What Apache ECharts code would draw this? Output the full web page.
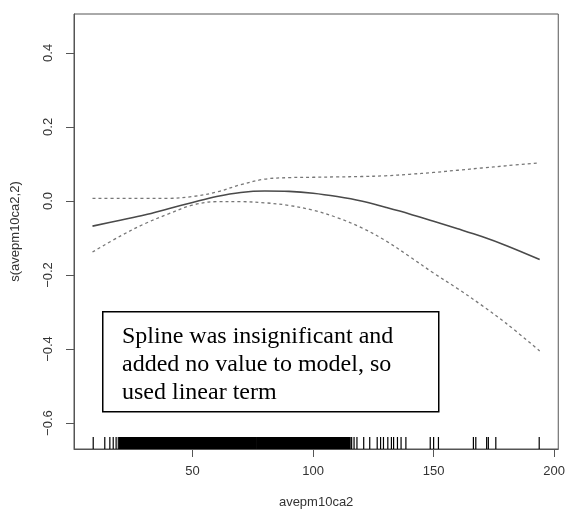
<!DOCTYPE html>
<html>
<head>
<meta charset="utf-8">
<script src="https://cdn.jsdelivr.net/npm/echarts@6/dist/echarts.min.js"></script>
<style>
html,body{margin:0;padding:0;background:#fff;}
#chart{width:568px;height:518px;}
</style>
</head>
<body>
<div id="chart"></div>
<script>
// ---- data ----
const xGrid = [8.5, 20, 30, 40, 50, 60, 70, 80, 90, 100, 110, 120, 130, 140, 150, 160, 170, 180, 194];
const fitVals = [-0.068, -0.052, -0.038, -0.021, -0.004, 0.012, 0.023, 0.027, 0.026, 0.021, 0.012, 0.0, -0.017, -0.035, -0.055, -0.075, -0.096, -0.12, -0.158];
const upperVals = [0.007, 0.007, 0.007, 0.007, 0.012, 0.024, 0.044, 0.059, 0.063, 0.064, 0.065, 0.066, 0.068, 0.072, 0.077, 0.083, 0.089, 0.095, 0.103];
const lowerVals = [-0.138, -0.095, -0.062, -0.035, -0.011, -0.002, -0.002, -0.005, -0.012, -0.025, -0.045, -0.072, -0.107, -0.15, -0.195, -0.237, -0.282, -0.33, -0.405];
// rug: observations in the dense middle range and the isolated ones
const rugDense = [
  20.0, 20.6, 21.4, 22.0, 22.7, 23.3, 24.0, 24.6, 25.3, 26.0, 26.6, 27.3,
  28, 28.5, 29, 29.5, 30, 30.5, 31, 31.5, 32, 32.5, 33, 33.5, 34, 34.5, 35, 35.5, 36, 36.5, 37, 37.5, 38, 38.5, 39, 39.5,
  40, 40.5, 41, 41.5, 42, 42.5, 43, 43.5, 44, 44.5, 45, 45.5, 46, 46.5, 47, 47.5, 48, 48.5, 49, 49.5,
  50, 50.5, 51, 51.5, 52, 52.5, 53, 53.5, 54, 54.5, 55, 56, 56.5, 57, 57.5, 58, 58.5, 59, 59.5,
  60, 60.5, 61, 61.5, 62, 62.5, 63, 63.5, 64, 64.5, 65, 65.5, 66, 66.5, 67, 67.5, 68, 68.5, 69, 69.5,
  70, 70.5, 71, 71.5, 72, 72.5, 73, 73.5, 74, 74.5, 75, 75.5, 76, 77, 77.5, 78.5, 79, 79.5,
  80, 80.5, 81, 81.5, 82, 82.5, 83, 83.5, 84, 84.5, 85, 85.5, 86, 86.5, 87, 87.5, 88, 88.5, 89, 89.5,
  90, 90.5, 91, 91.5, 92, 92.5, 93.5, 94, 94.5, 95, 95.5, 96, 96.7, 97.3, 98, 98.6, 99.2, 99.8,
  100.4, 101, 101.6, 102.3, 103, 103.6, 104.3, 105, 105.6, 106.2, 107, 107.6, 108.2, 108.8, 109.5, 110.1, 110.8, 111.4, 112,
  112.7, 113.5, 114.3, 115
];
const rugSparse = [
  8.8, 13.6, 15.7, 17.1, 18.3, 19.2,
  116, 117, 118.2, 121, 123.5, 126.6, 128, 129.2, 131, 132.5, 133.4, 135, 136.5, 138.5,
  148.6, 150, 152, 166.5, 167.5, 172, 172.7, 175.8, 193.8
];
const xTicks = [50, 100, 150, 200];
const xTickLabels = ['50', '100', '150', '200'];
const yTicks = [-0.6, -0.4, -0.2, 0, 0.2, 0.4];
const yTickLabels = ['\u22120.6', '\u22120.4', '\u22120.2', '0.0', '0.2', '0.4'];
const xName = 'avepm10ca2';
const yName = 's(avepm10ca2,2)';
const noteText = 'Spline was insignificant and\nadded no value to model, so\nused linear term';

const X_MIN = 0.83, X_MAX = 201.7, Y_MIN = -0.67, Y_MAX = 0.505;

function pairs(xs, ys) { return xs.map((x, i) => [x, ys[i]]); }
function labelFor(ticks, labels) {
  return function (v) {
    for (let i = 0; i < ticks.length; i++) if (Math.abs(ticks[i] - v) < 1e-9) return labels[i];
    return '';
  };
}
function rugSeries(values, w) {
  return {
    type: 'custom',
    data: values.map(v => [v, Y_MIN]),
    encode: { x: 0, y: 1 },
    renderItem: function (params, api) {
      const p = api.coord([api.value(0), api.value(1)]);
      return {
        type: 'rect',
        shape: { x: p[0] - w / 2, y: p[1] - 12, width: w, height: 12 },
        style: { fill: '#000' }
      };
    },
    silent: true
  };
}

const chart = echarts.init(document.getElementById('chart'), null, { renderer: 'canvas' });
const labelFont = { fontFamily: '"Liberation Sans", Arial, sans-serif', fontSize: 13, color: '#333' };

chart.setOption({
  animation: false,
  backgroundColor: '#fff',
  grid: { left: 74, right: 8, top: 14, bottom: 69, show: true, borderColor: '#555', borderWidth: 1, backgroundColor: 'transparent' },
  xAxis: {
    type: 'value', min: X_MIN, max: X_MAX,
    name: xName, nameLocation: 'middle', nameGap: 47,
    nameTextStyle: labelFont,
    axisLine: { show: true, onZero: false, lineStyle: { color: '#555', width: 1 } },
    axisTick: { show: true, length: 8, customValues: xTicks, lineStyle: { color: '#555' } },
    axisLabel: Object.assign({ customValues: xTicks, margin: 16, formatter: labelFor(xTicks, xTickLabels) }, labelFont),
    splitLine: { show: false }
  },
  yAxis: {
    type: 'value', min: Y_MIN, max: Y_MAX,
    name: yName, nameLocation: 'middle', nameGap: 52,
    nameTextStyle: labelFont,
    axisLine: { show: true, onZero: false, lineStyle: { color: '#555', width: 1 } },
    axisTick: { show: true, length: 8, customValues: yTicks, lineStyle: { color: '#555' } },
    axisLabel: Object.assign({ customValues: yTicks, margin: 19, rotate: 90, formatter: labelFor(yTicks, yTickLabels) }, labelFont),
    splitLine: { show: false }
  },
  series: [
    {
      type: 'line', data: pairs(xGrid, fitVals), smooth: 0.35, showSymbol: false,
      lineStyle: { color: '#4a4a4a', width: 1.6 }
    },
    {
      type: 'line', data: pairs(xGrid, upperVals), smooth: 0.35, showSymbol: false,
      lineStyle: { color: '#777', width: 1.3, type: [3, 3] }
    },
    {
      type: 'line', data: pairs(xGrid, lowerVals), smooth: 0.35, showSymbol: false,
      lineStyle: { color: '#777', width: 1.3, type: [3, 3] }
    },
    rugSeries(rugDense, 3),
    rugSeries(rugSparse, 1.2)
  ],
  graphic: [
    {
      type: 'rect', left: 102, top: 311,
      shape: { width: 336, height: 100 },
      style: { fill: '#fff', stroke: '#000', lineWidth: 1.5 },
      z: 10
    },
    {
      type: 'text', left: 122, top: 323,
      style: { text: noteText, font: '24px "Liberation Serif", "Times New Roman", serif', lineHeight: 28, fill: '#000' },
      z: 11
    }
  ]
});
</script>
</body>
</html>
